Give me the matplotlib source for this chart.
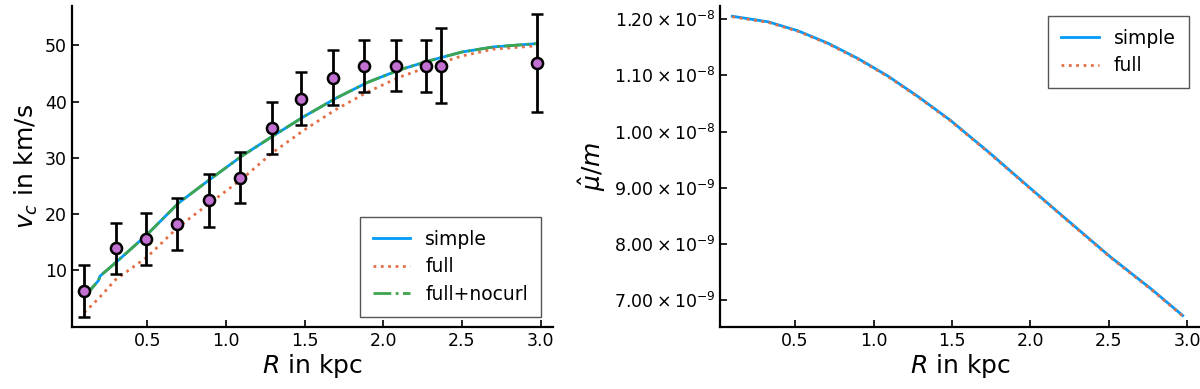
import matplotlib.pyplot as plt
from matplotlib.ticker import FuncFormatter

# Observed rotation curve (data points with error bars)
r_obs = [0.10, 0.30, 0.49, 0.69, 0.89, 1.09, 1.29, 1.48, 1.68, 1.88, 2.08, 2.27, 2.37, 2.98]
v_obs = [6.3, 13.9, 15.6, 18.3, 22.5, 26.5, 35.3, 40.5, 44.2, 46.3, 46.4, 46.3, 46.4, 46.9]
v_err = [4.6, 4.6, 4.6, 4.6, 4.7, 4.6, 4.6, 4.7, 4.9, 4.6, 4.6, 4.6, 6.7, 8.7]

# Model curves
r_mod = [0.10, 0.19, 0.20, 0.30, 0.50, 0.70, 0.90, 1.10, 1.30, 1.50, 1.70,
         1.90, 2.10, 2.30, 2.50, 2.70, 2.98]
v_simple = [5.3, 8.2, 9.0, 11.4, 16.4, 22.0, 26.2, 30.3, 33.9, 37.4, 40.6,
            43.4, 45.6, 47.3, 48.8, 49.7, 50.3]
v_nocurl = [5.3, 8.2, 9.0, 11.4, 16.4, 22.0, 26.2, 30.3, 33.9, 37.4, 40.6,
            43.4, 45.6, 47.3, 48.8, 49.7, 50.3]
v_full = [2.5, 5.0, 5.3, 8.4, 12.4, 17.8, 22.0, 26.2, 31.0, 35.0, 38.6,
          41.7, 44.3, 46.3, 48.1, 49.3, 49.9]

r_mu = [0.10, 0.33, 0.52, 0.71, 0.90, 1.09, 1.29, 1.49, 1.74, 2.00, 2.25, 2.51, 2.77, 2.97]
mu_simple = [12.05e-9, 11.95e-9, 11.79e-9, 11.57e-9, 11.30e-9, 10.99e-9, 10.61e-9,
             10.20e-9, 9.62e-9, 8.99e-9, 8.39e-9, 7.77e-9, 7.20e-9, 6.73e-9]
mu_full = [12.04e-9, 11.94e-9, 11.78e-9, 11.56e-9, 11.29e-9, 10.98e-9, 10.60e-9,
           10.19e-9, 9.61e-9, 8.98e-9, 8.38e-9, 7.76e-9, 7.19e-9, 6.72e-9]

BLUE = '#009AFA'
ORANGE = '#E36F47'
GREEN = '#3EA44E'
PURPLE = '#C271D2'


def style_axes(ax):
    for side in ['top', 'right']:
        ax.spines[side].set_visible(False)
    for side in ['left', 'bottom']:
        ax.spines[side].set_linewidth(1.6)
    ax.tick_params(direction='in', length=5, width=1.2, labelsize=12.5)
    ax.set_xticks([0.5, 1.0, 1.5, 2.0, 2.5, 3.0])
    ax.set_xlabel('$R$ in kpc', fontsize=18, labelpad=2)


def add_legend(ax, loc, anchor):
    leg = ax.legend(loc=loc, fontsize=13.5, fancybox=False, framealpha=1,
                    edgecolor='#555555', borderpad=0.7, handlelength=2.0,
                    handletextpad=0.8, labelspacing=0.45, borderaxespad=0,
                    bbox_to_anchor=anchor)
    leg.get_frame().set_linewidth(1.0)
    return leg


fig = plt.figure(figsize=(12, 3.89), dpi=100)

# Rotation curve panel.
ax1 = fig.add_axes([0.06, 0.16, 0.401, 0.825])
ax1.plot(r_mod, v_simple, color=BLUE, lw=2, label='simple')
ax1.plot(r_mod, v_full, color=ORANGE, lw=2, ls=':', label='full')
ax1.plot(r_mod, v_nocurl, color=GREEN, lw=2, ls='-.', label='full+nocurl')
ax1.errorbar(r_obs, v_obs, yerr=v_err, fmt='o', color='black', ecolor='black',
             elinewidth=2, capsize=4, capthick=2, markersize=8,
             markerfacecolor=PURPLE, markeredgecolor='black', markeredgewidth=1.8,
             zorder=5)
ax1.set_xlim(0.022, 3.08)
ax1.set_ylim(0, 57)
ax1.set_yticks([10, 20, 30, 40, 50])
ax1.set_ylabel('$v_c$ in km/s', fontsize=18)
style_axes(ax1)
add_legend(ax1, 'lower right', (0.975, 0.031))

# mu/m panel.
ax2 = fig.add_axes([0.6, 0.16, 0.4, 0.825])
ax2.plot(r_mu, mu_simple, color=BLUE, lw=2, label='simple')
ax2.plot(r_mu, mu_full, color=ORANGE, lw=2, ls=':', label='full')
ax2.set_xlim(0.022, 3.08)
ax2.set_ylim(6.53e-9, 1.2235e-8)
ax2.set_yticks([7e-9, 8e-9, 9e-9, 1.0e-8, 1.1e-8, 1.2e-8])


def sci_fmt(val, pos):
    exp = int(f'{val:e}'.split('e')[1])
    mant = val / 10 ** exp
    return r'$%.2f\times10^{%d}$' % (mant, exp)


ax2.yaxis.set_major_formatter(FuncFormatter(sci_fmt))
ax2.set_ylabel(r'$\hat{\mu}/m$', fontsize=18)
style_axes(ax2)
add_legend(ax2, 'upper right', (0.977, 0.969))

fig.savefig('out.png', dpi=100)
